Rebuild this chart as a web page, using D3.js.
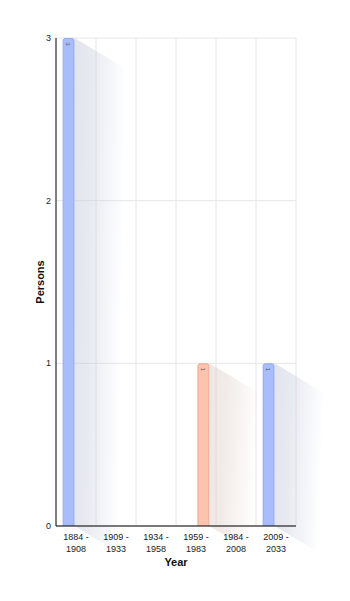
<!DOCTYPE html>
<html><head><meta charset="utf-8">
<script src="https://cdn.jsdelivr.net/npm/d3@7"></script>
<style>body{margin:0;background:#fff;font-family:"Liberation Sans",Arial,sans-serif;}</style>
</head><body><svg id="c" width="350" height="601"></svg>
<script>
const categories = ["1884 - 1908","1909 - 1933","1934 - 1958","1959 - 1983","1984 - 2008","2009 - 2033"];
const seriesNames = ["A","B"];
const seriesA = [3,0,0,0,0,1];
const seriesB = [0,0,0,1,0,0];
const yTicks = [0,1,2,3];

const colors = {A:{fill:"#a9bdfc",stroke:"#93a8ee",shadow:"#c5cadb"},B:{fill:"#fdc3ad",stroke:"#eba78f",shadow:"#ddcdc6"}};
const m = {l:56,r:54,t:38,b:75};
const W = 350, H = 601;
const svg = d3.select("#c");
const x = d3.scaleBand().domain(categories).range([m.l, W-m.r]);
const xs = d3.scaleBand().domain(seriesNames).range([0, x.bandwidth()]).paddingInner(0.2).paddingOuter(0.45);
const y = d3.scaleLinear().domain([0,3]).range([H-m.b, m.t]);

const defs = svg.append("defs");
for (const k of seriesNames){
  const g = defs.append("linearGradient").attr("id","sh"+k).attr("x1","0").attr("y1","0").attr("x2","1").attr("y2","0.15");
  g.append("stop").attr("offset","0").attr("stop-color",colors[k].shadow).attr("stop-opacity",0.5);
  g.append("stop").attr("offset","0.35").attr("stop-color",colors[k].shadow).attr("stop-opacity",0.4);
  g.append("stop").attr("offset","1").attr("stop-color",colors[k].shadow).attr("stop-opacity",0);
}

// grid
svg.append("g").selectAll("line").data(yTicks).join("line")
  .attr("x1",m.l).attr("x2",W-m.r).attr("y1",d=>y(d)).attr("y2",d=>y(d))
  .attr("stroke","#e6e6e6").attr("stroke-width",1);
svg.append("g").selectAll("line").data(categories).join("line")
  .attr("x1",(d,i)=>m.l+(i+1)*x.step()).attr("x2",(d,i)=>m.l+(i+1)*x.step())
  .attr("y1",m.t).attr("y2",H-m.b).attr("stroke","#e6e6e6");

const data = [];
categories.forEach((c,i)=>{
  data.push({c,k:"A",v:seriesA[i]});
  data.push({c,k:"B",v:seriesB[i]});
});
const nz = data.filter(d=>d.v>0);

// shadows
svg.append("g").selectAll("path").data(nz).join("path")
  .attr("d",d=>{
    const x1 = x(d.c)+xs(d.k)+xs.bandwidth(), t = y(d.v), b = y(0);
    return `M${x1},${t} L${x1+50},${t+30} L${x1+50},${b+30} L${x1},${b} Z`;
  })
  .attr("fill",d=>`url(#sh${d.k})`);

// bars
svg.append("g").selectAll("path").data(nz).join("path")
  .attr("d",d=>{
    const x0 = x(d.c)+xs(d.k)+0.5, w = xs.bandwidth()-1, t = y(d.v)+0.5, b = y(0), r=2;
    return `M${x0},${b} L${x0},${t+r} Q${x0},${t} ${x0+r},${t} L${x0+w-r},${t} Q${x0+w},${t} ${x0+w},${t+r} L${x0+w},${b}`;
  })
  .attr("fill",d=>colors[d.k].fill).attr("stroke",d=>colors[d.k].stroke).attr("stroke-width",1);

// bar labels
svg.append("g").selectAll("text").data(nz).join("text")
  .attr("transform",d=>`translate(${x(d.c)+xs(d.k)+xs.bandwidth()/2},${y(d.v)+6}) rotate(90)`)
  .attr("text-anchor","middle").attr("dy","0.35em")
  .attr("font-size",6).attr("fill","#555").text(d=>d.v);

// axes
svg.append("line").attr("x1",m.l).attr("x2",m.l).attr("y1",m.t).attr("y2",H-m.b).attr("stroke","#000");
svg.append("line").attr("x1",m.l).attr("x2",W-m.r).attr("y1",H-m.b).attr("y2",H-m.b).attr("stroke","#000");

svg.append("g").selectAll("text").data(yTicks).join("text")
  .attr("x",m.l-5).attr("y",d=>y(d)).attr("dy","0.35em").attr("text-anchor","end")
  .attr("font-size",9).attr("fill","#222").text(d=>d);

const xl = svg.append("g").selectAll("text").data(categories).join("text")
  .attr("text-anchor","middle").attr("font-size",9).attr("fill","#222");
xl.append("tspan").attr("x",d=>x(d)+x.bandwidth()/2).attr("y",H-m.b+14).text(d=>d.split(" - ")[0]+" -");
xl.append("tspan").attr("x",d=>x(d)+x.bandwidth()/2).attr("y",H-m.b+26).text(d=>d.split(" - ")[1]);

svg.append("text").attr("x",(m.l+W-m.r)/2).attr("y",566).attr("text-anchor","middle")
  .attr("font-size",11).attr("font-weight","bold").attr("fill","#111").text("Year");
svg.append("text").attr("transform",`translate(44,${(m.t+H-m.b)/2}) rotate(-90)`).attr("text-anchor","middle")
  .attr("font-size",11).attr("font-weight","bold").attr("fill","#111").text("Persons");
</script></body></html>
